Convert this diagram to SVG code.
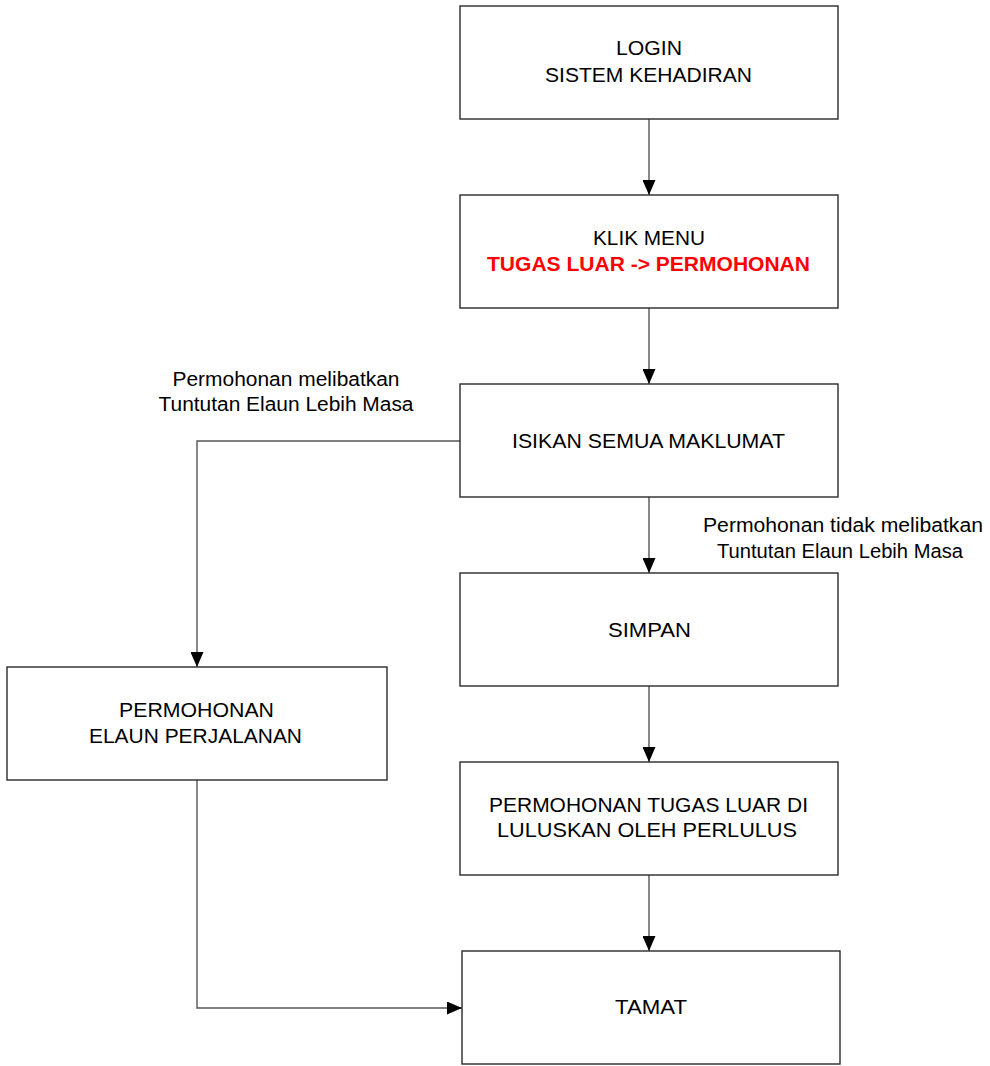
<svg xmlns="http://www.w3.org/2000/svg" width="990" height="1066" viewBox="0 0 990 1066">
<style>
.box{fill:#fff;stroke:#2a2a2a;stroke-width:1.4}
.t{font-family:"Liberation Sans",Arial,sans-serif;font-size:20px;fill:#000;text-anchor:middle}
.red{fill:#ff0000;font-weight:bold}
.c{fill:none;stroke:#555;stroke-width:1.4}
</style>
<defs>
<marker id="ah" viewBox="0 0 15 13" refX="15" refY="6.5" markerWidth="15" markerHeight="13" markerUnits="userSpaceOnUse" orient="auto">
<path d="M0,0 L15,6.5 L0,13 Z" fill="#000"/>
</marker>
</defs>
<rect width="990" height="1066" fill="#fff"/>
<g id="connectors">
<path class="c" d="M649,119 V195" marker-end="url(#ah)"/>
<path class="c" d="M649,308 V384" marker-end="url(#ah)"/>
<path class="c" d="M649,497 V573" marker-end="url(#ah)"/>
<path class="c" d="M649,686 V762" marker-end="url(#ah)"/>
<path class="c" d="M649,875 V951" marker-end="url(#ah)"/>
<path class="c" d="M460,441 H197 V667" marker-end="url(#ah)"/>
<path class="c" d="M197,780 V1008 H462" marker-end="url(#ah)"/>
<text class="t" x="286" y="386" textLength="227" lengthAdjust="spacingAndGlyphs">Permohonan melibatkan</text>
<text class="t" x="286" y="411" textLength="255" lengthAdjust="spacingAndGlyphs">Tuntutan Elaun Lebih Masa</text>
<text class="t" x="843" y="532" textLength="280" lengthAdjust="spacingAndGlyphs">Permohonan tidak melibatkan</text>
<text class="t" x="840" y="558" textLength="246" lengthAdjust="spacingAndGlyphs">Tuntutan Elaun Lebih Masa</text>
</g>
<g id="login">
<rect class="box" x="460" y="6" width="378" height="113"/>
<text class="t" x="649" y="55" textLength="66" lengthAdjust="spacingAndGlyphs">LOGIN</text>
<text class="t" x="648.5" y="82" textLength="207" lengthAdjust="spacingAndGlyphs">SISTEM KEHADIRAN</text>
</g>
<g id="klik">
<rect class="box" x="460" y="195" width="378" height="113"/>
<text class="t" x="649" y="245" textLength="112" lengthAdjust="spacingAndGlyphs">KLIK MENU</text>
<text class="t red" x="648.5" y="271" textLength="323" lengthAdjust="spacingAndGlyphs">TUGAS LUAR -&gt; PERMOHONAN</text>
</g>
<g id="isikan">
<rect class="box" x="460" y="384" width="378" height="113"/>
<text class="t" x="648.5" y="448" textLength="273" lengthAdjust="spacingAndGlyphs">ISIKAN SEMUA MAKLUMAT</text>
</g>
<g id="simpan">
<rect class="box" x="460" y="573" width="378" height="113"/>
<text class="t" x="649.5" y="637" textLength="83" lengthAdjust="spacingAndGlyphs">SIMPAN</text>
</g>
<g id="elaun">
<rect class="box" x="7" y="667" width="380" height="113"/>
<text class="t" x="196.5" y="717" textLength="155" lengthAdjust="spacingAndGlyphs">PERMOHONAN</text>
<text class="t" x="195.5" y="743" textLength="213" lengthAdjust="spacingAndGlyphs">ELAUN PERJALANAN</text>
</g>
<g id="lulus">
<rect class="box" x="460" y="762" width="378" height="113"/>
<text class="t" x="648.5" y="812" textLength="319" lengthAdjust="spacingAndGlyphs">PERMOHONAN TUGAS LUAR DI</text>
<text class="t" x="647" y="837" textLength="300" lengthAdjust="spacingAndGlyphs">LULUSKAN OLEH PERLULUS</text>
</g>
<g id="tamat">
<rect class="box" x="462" y="951" width="378" height="113"/>
<text class="t" x="651" y="1014" textLength="72" lengthAdjust="spacingAndGlyphs">TAMAT</text>
</g>
</svg>
